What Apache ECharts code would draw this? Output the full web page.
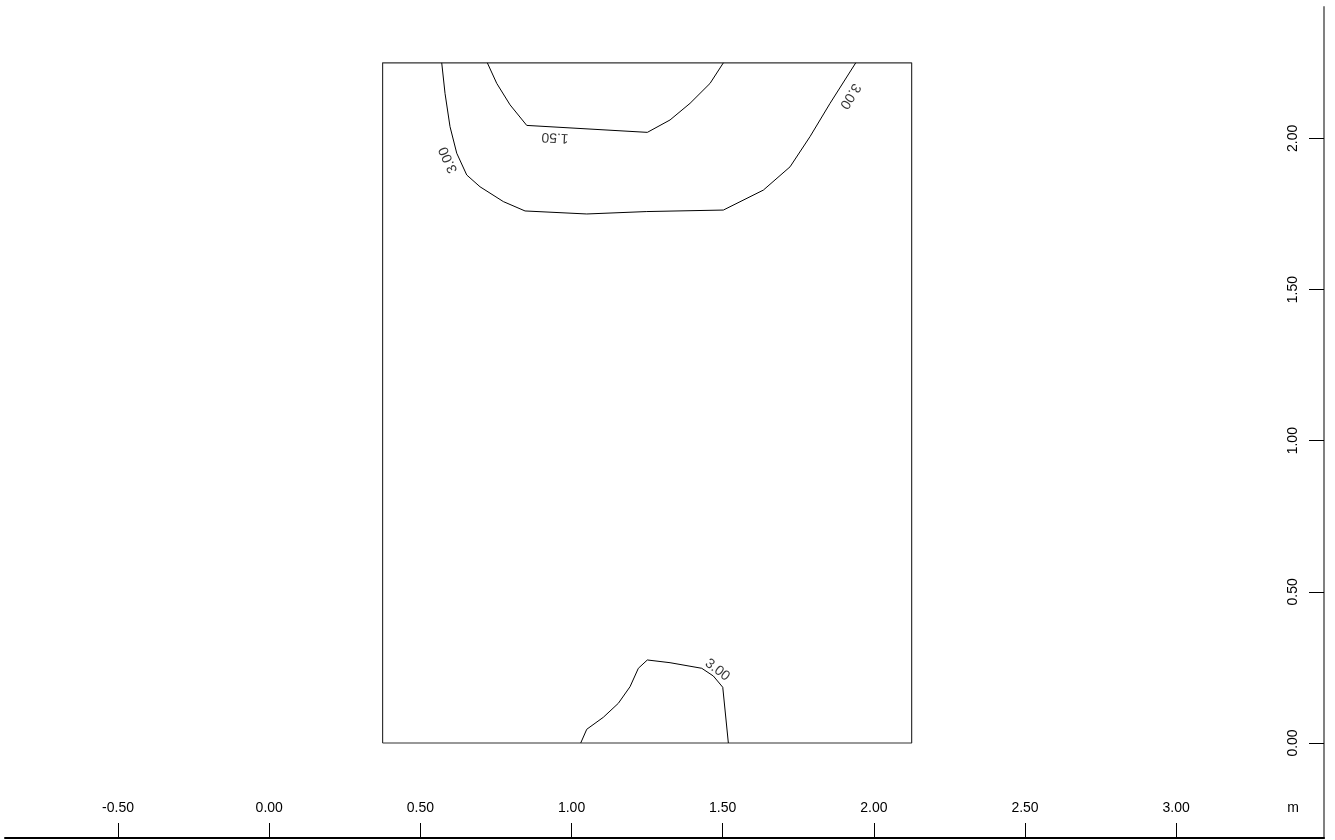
<!DOCTYPE html>
<html>
<head>
<meta charset="utf-8">
<script src="https://cdn.jsdelivr.net/npm/echarts@6/dist/echarts.min.js"></script>
<style>
html,body{margin:0;padding:0;background:#fff;}
#chart{width:1335px;height:840px;}
</style>
</head>
<body>
<div id="chart"></div>
<script>
// ---- data ----
const xTicks = [-0.5, 0, 0.5, 1.0, 1.5, 2.0, 2.5, 3.0];
const yTicks = [0, 0.5, 1.0, 1.5, 2.0];
const unitLabel = 'm';
const xUnitPos = 3.387;   // axis value where the x unit label sits
const rectX = [0.375, 2.125];
const rectY = [0, 2.25];

const contour150 = [
  [0.7215, 2.25], [0.7526, 2.182], [0.7966, 2.111], [0.8518, 2.043],
  [1.2507, 2.020], [1.3258, 2.061], [1.392, 2.116], [1.4582, 2.182], [1.5022, 2.25]
];
const contour300Top = [
  [0.5706, 2.25], [0.5815, 2.149], [0.598, 2.039], [0.6203, 1.951], [0.6533, 1.879],
  [0.6973, 1.840], [0.7744, 1.791], [0.8462, 1.760], [1.0503, 1.750], [1.2488, 1.758],
  [1.5022, 1.763], [1.6345, 1.829], [1.7228, 1.906], [1.7889, 2.006], [1.8551, 2.116],
  [1.9401, 2.25]
];
const contour300Bottom = [
  [1.0304, 0], [1.0503, 0.0453], [1.1052, 0.085], [1.1548, 0.1313], [1.1935, 0.1862],
  [1.221, 0.2471], [1.2507, 0.2746], [1.3258, 0.2656], [1.4307, 0.2471],
  [1.4691, 0.2216], [1.5002, 0.1843], [1.5187, 0]
];
// contour labels: x, y, text, angle (deg)
const contourLabels = [
  [0.9454, 2.0036, '1.50', 177],
  [0.5925, 1.9286, '3.00', 114],
  [1.9212, 2.1401, '3.00', -122],
  [1.4823, 0.2415, '3.00', -38]
];

// ---- chart ----
const FONT = '"Liberation Sans", Arial, sans-serif';
const chart = echarts.init(document.getElementById('chart'));
const rect = [
  [rectX[0], rectY[0]], [rectX[1], rectY[0]], [rectX[1], rectY[1]],
  [rectX[0], rectY[1]], [rectX[0], rectY[0]]
];
function lineSeries(data, color, width) {
  return {
    type: 'line', data: data, symbol: 'none', smooth: false, silent: true,
    lineStyle: { color: color, width: width }, animation: false
  };
}
chart.setOption({
  backgroundColor: '#ffffff',
  animation: false,
  grid: { left: 5, right: 11, top: 7, bottom: 2 },
  xAxis: {
    type: 'value', min: -0.874, max: 3.489, position: 'bottom',
    splitLine: { show: false },
    axisLine: { show: true, onZero: false, lineStyle: { color: '#000', width: 2 } },
    axisTick: { show: true, inside: true, length: 15, lineStyle: { color: '#000', width: 1 },
      customValues: xTicks },
    axisLabel: { show: true, inside: true, margin: 23, fontFamily: FONT, fontSize: 14, color: '#000',
      customValues: xTicks.concat([xUnitPos]),
      formatter: function (v) { return Math.abs(v - xUnitPos) < 1e-6 ? unitLabel : v.toFixed(2); } }
  },
  yAxis: {
    type: 'value', min: -0.3143, max: 2.4347, position: 'right',
    splitLine: { show: false },
    axisLine: { show: true, onZero: false, lineStyle: { color: '#808080', width: 2 } },
    axisTick: { show: true, inside: true, length: 15, lineStyle: { color: '#000', width: 1 },
      customValues: yTicks },
    axisLabel: { show: true, inside: true, margin: 24, rotate: 90, fontFamily: FONT, fontSize: 14, color: '#000',
      customValues: yTicks,
      formatter: function (v) { return v.toFixed(2); } }
  },
  series: [
    lineSeries(rect, '#333', 1.2),
    lineSeries(contour150, '#000', 1),
    lineSeries(contour300Top, '#000', 1),
    lineSeries(contour300Bottom, '#000', 1),
    {
      type: 'scatter', symbolSize: 0, silent: true, animation: false,
      data: contourLabels.map(function (d) {
        return {
          value: [d[0], d[1]],
          label: { show: true, position: 'inside', formatter: d[2], rotate: d[3],
            fontFamily: FONT, fontSize: 14, color: '#000' }
        };
      })
    }
  ]
});
</script>
</body>
</html>
